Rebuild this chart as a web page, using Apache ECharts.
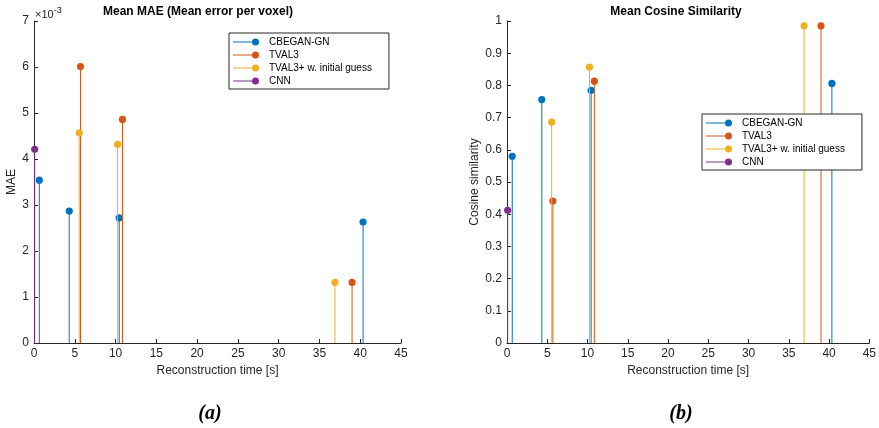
<!DOCTYPE html>
<html>
<head>
<meta charset="utf-8">
<script src="https://cdn.jsdelivr.net/npm/echarts@6/dist/echarts.min.js"></script>
<style>html,body{margin:0;padding:0;background:#fff}#c{width:879px;height:428px}</style>
</head>
<body>
<div id="c"></div>
<script>
// ---- data ----
const seriesNames = ['CBEGAN-GN', 'TVAL3', 'TVAL3+ w. initial guess', 'CNN'];
const seriesColors = ['#0072BD', '#D95319', '#EDB120', '#7E2F8E'];

const timeCBEGAN = [0.65, 4.32, 10.45, 40.35];
const timeTVAL3 = [5.7, 10.85, 39.0];
const timeTVAL3init = [5.55, 10.25, 36.9];
const timeCNN = [0.08];

const maeCBEGAN = [0.00354, 0.00287, 0.00272, 0.00263];
const maeTVAL3 = [0.00601, 0.00486, 0.00132];
const maeTVAL3init = [0.00457, 0.00432, 0.00132];
const maeCNN = [0.00421];

const cosCBEGAN = [0.580, 0.756, 0.785, 0.806];
const cosTVAL3 = [0.441, 0.813, 0.985];
const cosTVAL3init = [0.686, 0.857, 0.985];
const cosCNN = [0.412];

const xTicks = {min: 0, max: 45, interval: 5};
const maeTicks = {min: 0, max: 0.007, interval: 0.001};
const cosTicks = {min: 0, max: 1, interval: 0.1};

const titleMAE = 'Mean MAE (Mean error per voxel)';
const titleCos = 'Mean Cosine Similarity';
const xName = 'Reconstruction time [s]';

// ---- build ----
const times = [timeCBEGAN, timeTVAL3, timeTVAL3init, timeCNN];
const maes = [maeCBEGAN, maeTVAL3, maeTVAL3init, maeCNN];
const coss = [cosCBEGAN, cosTVAL3, cosTVAL3init, cosCNN];

const axisColor = '#262626';
const font = 'Liberation Sans, Arial, sans-serif';

function stemRender(color) {
  return function (params, api) {
    const x = api.value(0), y = api.value(1);
    const top = api.coord([x, y]);
    const base = api.coord([x, 0]);
    return {
      type: 'group',
      children: [
        {type: 'line', shape: {x1: base[0], y1: base[1], x2: top[0], y2: top[1]},
         style: {stroke: color, lineWidth: 1}},
        {type: 'circle', shape: {cx: top[0], cy: top[1], r: 3.6},
         style: {fill: color}}
      ]
    };
  };
}

const series = [];
[maes, coss].forEach((vals, gi) => {
  seriesNames.forEach((name, i) => {
    series.push({
      type: 'custom',
      name: name,
      xAxisIndex: gi, yAxisIndex: gi,
      itemStyle: {color: seriesColors[i]},
      renderItem: stemRender(seriesColors[i]),
      encode: {x: 0, y: 1},
      clip: false,
      data: times[i].map((t, k) => [t, vals[i][k]])
    });
  });
});

const legendIcon = 'path://M0,3L19.5,3L19.5,4L0,4Z M19,3.5A3.5,3.5 0 1,1 26,3.5A3.5,3.5 0 1,1 19,3.5Z';
function makeLegend(left, top) {
  return {
    orient: 'vertical', left: left, top: top,
    data: seriesNames.map(n => ({name: n, icon: legendIcon})),
    itemWidth: 26, itemHeight: 7, itemGap: 3,
    padding: [4, 17, 3, 4],
    borderColor: axisColor, borderWidth: 1,
    backgroundColor: '#fff',
    selectedMode: false,
    textStyle: {fontFamily: font, fontSize: 10, color: '#000', lineHeight: 10, padding: [0, 0, 0, 5]}
  };
}

function xAxis(gi) {
  return {
    type: 'value', gridIndex: gi, min: xTicks.min, max: xTicks.max, interval: xTicks.interval,
    name: xName, nameLocation: 'middle', nameGap: 22,
    nameTextStyle: {fontFamily: font, fontSize: 12, color: axisColor},
    axisLine: {show: true, lineStyle: {color: axisColor, width: 1}},
    axisTick: {show: true, inside: true, length: 4, lineStyle: {color: axisColor}},
    axisLabel: {fontFamily: font, fontSize: 12, color: axisColor, margin: 5},
    splitLine: {show: false}
  };
}
function yAxis(gi, ticks, name, gap, fmt) {
  return {
    type: 'value', gridIndex: gi, min: ticks.min, max: ticks.max, interval: ticks.interval,
    name: name, nameLocation: 'middle', nameGap: gap, nameRotate: 90,
    nameTextStyle: {fontFamily: font, fontSize: 12, color: axisColor},
    axisLine: {show: true, lineStyle: {color: axisColor, width: 1}},
    axisTick: {show: true, inside: true, length: 4, lineStyle: {color: axisColor}},
    axisLabel: {fontFamily: font, fontSize: 12, color: axisColor, margin: 5, formatter: fmt},
    splitLine: {show: false}
  };
}

const option = {
  animation: false,
  color: seriesColors,
  grid: [
    {left: 34, top: 21, width: 367, height: 322},
    {left: 507, top: 21, width: 367, height: 322}
  ],
  xAxis: [xAxis(0), xAxis(1)],
  yAxis: [
    yAxis(0, maeTicks, 'MAE', 16, v => String(Math.round(v * 1000))),
    yAxis(1, cosTicks, 'Cosine similarity', 26, v => String(Math.round(v * 10) / 10))
  ],
  legend: [makeLegend(229, 33), makeLegend(702, 114)],
  series: series,
  graphic: [
    {type: 'text', x: 198, y: 12, style: {text: titleMAE, font: 'bold 12px ' + font, fill: '#000', textAlign: 'center', textVerticalAlign: 'middle'}},
    {type: 'text', x: 676, y: 12, style: {text: titleCos, font: 'bold 12px ' + font, fill: '#000', textAlign: 'center', textVerticalAlign: 'middle'}},
    {type: 'text', x: 35, y: 14.5, style: {
      text: '×10{s|-3}', font: '11px ' + font, fill: axisColor, textAlign: 'left', textVerticalAlign: 'middle',
      rich: {s: {fontSize: 9, fontFamily: font, fill: axisColor, padding: [0, 0, 7, 0]}}
    }},
    {type: 'text', x: 210, y: 414, style: {text: '(a)', font: 'italic bold 20px "Liberation Serif", "DejaVu Serif", serif', fill: '#000', textAlign: 'center', textVerticalAlign: 'middle'}},
    {type: 'text', x: 681, y: 414, style: {text: '(b)', font: 'italic bold 20px "Liberation Serif", "DejaVu Serif", serif', fill: '#000', textAlign: 'center', textVerticalAlign: 'middle'}}
  ]
};

const chart = echarts.init(document.getElementById('c'), null, {renderer: 'canvas'});
chart.setOption(option);
</script>
</body>
</html>
